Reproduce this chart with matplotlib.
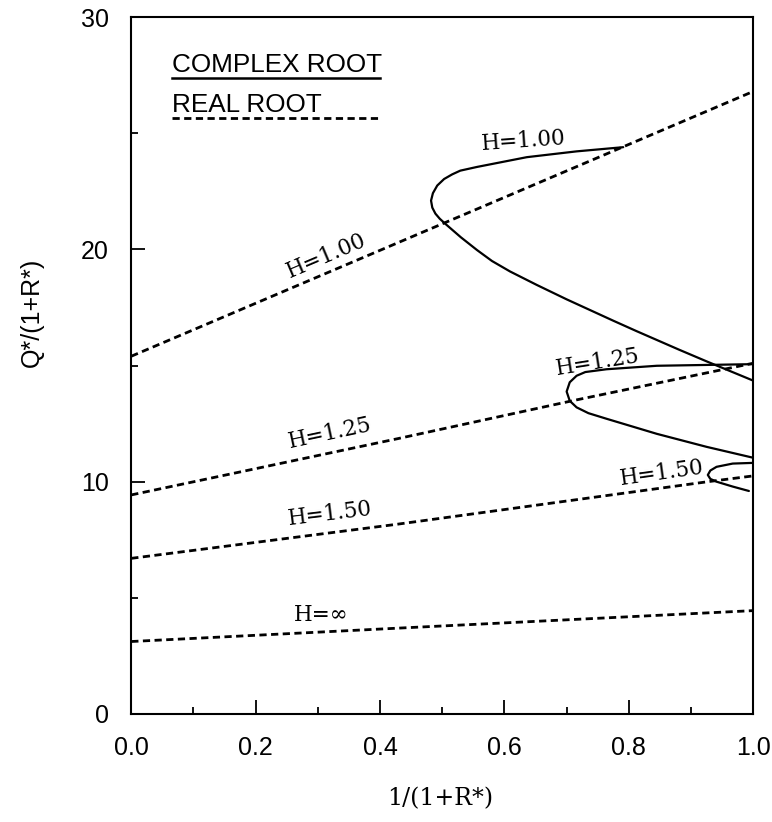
import matplotlib
matplotlib.use("Agg")
import matplotlib.pyplot as plt
from matplotlib.ticker import MultipleLocator, FixedLocator, FixedFormatter

# ---- data ----
# complex-root curves (solid)
h100_cx = [0.791, 0.716, 0.636, 0.556, 0.529, 0.516, 0.503, 0.492, 0.485, 0.482, 0.484,
           0.489, 0.496, 0.505, 0.530, 0.556, 0.580, 0.609, 0.652, 0.700, 0.775, 0.8125,
           0.881, 0.925, 1.0]
h100_cy = [24.40, 24.22, 23.97, 23.55, 23.39, 23.23, 23.03, 22.75, 22.42, 22.10, 21.80,
           21.54, 21.32, 21.10, 20.52, 19.97, 19.50, 19.05, 18.47, 17.85, 16.93, 16.48,
           15.68, 15.18, 14.35]

h125_cx = [1.0, 0.845, 0.764, 0.730, 0.716, 0.705, 0.700, 0.705, 0.716, 0.735, 0.764,
           0.845, 0.925, 1.0]
h125_cy = [15.06, 14.99, 14.84, 14.72, 14.56, 14.28, 13.88, 13.48, 13.20, 12.95, 12.71,
           12.06, 11.50, 11.03]

h150_cx = [1.0, 0.967, 0.941, 0.931, 0.927, 0.931, 0.941, 0.967, 0.993]
h150_cy = [10.81, 10.78, 10.64, 10.48, 10.29, 10.12, 10.00, 9.79, 9.60]

# real-root lines (dashed)
h100_rx = [0.0, 0.5, 1.0]
h100_ry = [15.4, 21.1, 26.8]
h125_rx = [0.0, 0.428, 0.712, 1.0]
h125_ry = [9.43, 11.85, 13.5, 15.1]
h150_rx = [0.0, 0.428, 0.927, 1.0]
h150_ry = [6.70, 8.17, 10.0, 10.25]
hinf_rx = [0.0, 0.455, 1.0]
hinf_ry = [3.12, 3.73, 4.45]

x_ticks = [0.0, 0.2, 0.4, 0.6, 0.8, 1.0]
x_ticklabels = ["0.0", "0.2", "0.4", "0.6", "0.8", "1.0"]
y_ticks = [0, 10, 20, 30]
y_ticklabels = ["0", "10", "20", "30"]

labels = ["H=1.00", "H=1.00", "H=1.25", "H=1.25", "H=1.50", "H=1.50", "H=\u221e"]
label_x = [0.630, 0.313, 0.750, 0.319, 0.853, 0.320, 0.305]
label_y = [24.65, 19.70, 15.13, 12.10, 10.36, 8.63, 4.27]
label_rot = [4, 23, 9, 12, 8, 7, 0]

# ---- figure ----
fig = plt.figure(figsize=(7.72, 8.22), dpi=100)
ax = fig.add_axes([0.170, 0.1314, 0.8057, 0.8478])

solid_kw = dict(color="black", lw=1.6, solid_capstyle="round", solid_joinstyle="round")
dash_kw = dict(color="black", lw=2.0, linestyle=(0, (2.6, 1.6)))

for cx, cy in [(h100_cx, h100_cy), (h125_cx, h125_cy), (h150_cx, h150_cy)]:
    ax.plot(cx, cy, **solid_kw)
for rx, ry in [(h100_rx, h100_ry), (h125_rx, h125_ry), (h150_rx, h150_ry), (hinf_rx, hinf_ry)]:
    ax.plot(rx, ry, **dash_kw)

for t, x, y, r in zip(labels, label_x, label_y, label_rot):
    ax.text(x, y, t, rotation=r, rotation_mode="anchor", ha="center", va="center",
            fontsize=15.5, family="DejaVu Serif")

# legend drawn in axes coordinates
ax.text(0.066, 0.921, "COMPLEX ROOT", transform=ax.transAxes, fontsize=18.8,
        family="Liberation Sans", ha="left", va="baseline")
ax.plot([0.066, 0.400], [0.912, 0.912], transform=ax.transAxes, color="black", lw=1.8)
ax.text(0.066, 0.864, "REAL ROOT", transform=ax.transAxes, fontsize=18.8,
        family="Liberation Sans", ha="left", va="baseline")
ax.plot([0.066, 0.400], [0.855, 0.855], transform=ax.transAxes, **dash_kw)

ax.set_xlim(0, 1.0)
ax.set_ylim(0, 30)

ax.xaxis.set_major_locator(FixedLocator(x_ticks))
ax.xaxis.set_major_formatter(FixedFormatter(x_ticklabels))
ax.xaxis.set_minor_locator(MultipleLocator(0.1))
ax.yaxis.set_major_locator(FixedLocator(y_ticks))
ax.yaxis.set_major_formatter(FixedFormatter(y_ticklabels))
ax.yaxis.set_minor_locator(MultipleLocator(5))

ax.tick_params(which="both", direction="in", top=False, right=False, width=1.3)
ax.tick_params(which="major", length=10, pad=16)
ax.tick_params(which="minor", length=5)
for lab in ax.get_xticklabels() + ax.get_yticklabels():
    lab.set_family("Liberation Sans")
    lab.set_fontsize(18)

for s in ax.spines.values():
    s.set_linewidth(1.5)

ax.set_xlabel("1/(1+R*)", fontsize=17, family="DejaVu Serif")
ax.xaxis.set_label_coords(0.497, -0.105)
ax.set_ylabel("Q*/(1+R*)", fontsize=18, family="Liberation Sans")
ax.yaxis.set_label_coords(-0.141, 0.577)

fig.savefig("out.png", dpi=100)
